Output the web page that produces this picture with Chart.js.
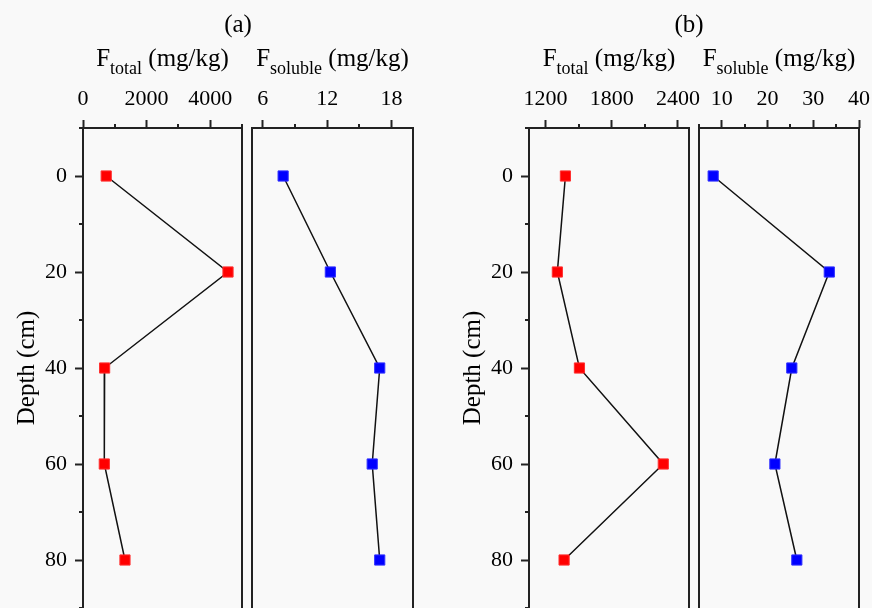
<!DOCTYPE html>
<html>
<head>
<meta charset="utf-8">
<script src="https://cdn.jsdelivr.net/npm/chart.js@4"></script>
<style>
    html, body { margin: 0; padding: 0; overflow: hidden; background: #f9f9f9; }
    #wrap { position: relative; width: 872px; height: 608px; }
    #wrap canvas { position: absolute; left: 0; top: 0; }
</style>
</head>
<body>
<div id="wrap">
    <canvas id="p1" width="872" height="608"></canvas>
    <canvas id="p2" width="872" height="608"></canvas>
    <canvas id="p3" width="872" height="608"></canvas>
    <canvas id="p4" width="872" height="608"></canvas>
</div>
<script>
// Depth of each sample (cm)
const depths = [0, 20, 40, 60, 80];

// Site (a)
const aTotal = [730, 4560, 680, 670, 1320];
const aSoluble = [7.9, 12.3, 16.9, 16.2, 16.9];

// Site (b)
const bTotal = [1380, 1307, 1507, 2267, 1368];
const bSoluble = [8.1, 33.5, 25.3, 21.6, 26.4];

// Axis ranges, labelled ticks and minor ticks
const depthRange = [-10, 90];
const depthTicks = [0, 20, 40, 60, 80];
const depthMinor = [-10, 10, 30, 50, 70, 90];

const aTotalRange = [0, 5000];
const aTotalTicks = [0, 2000, 4000];
const aTotalMinor = [1000, 3000, 5000];

const aSolubleRange = [5, 20];
const aSolubleTicks = [6, 12, 18];
const aSolubleMinor = [9, 15];

const bTotalRange = [1050, 2500];
const bTotalTicks = [1200, 1800, 2400];
const bTotalMinor = [1500, 2100];

const bSolubleRange = [5, 40];
const bSolubleTicks = [10, 20, 30, 40];
const bSolubleMinor = [5, 15, 25, 35];

const FONT = '"Liberation Serif", "Times New Roman", serif';
const INK = '#222';
Chart.defaults.font.family = FONT;
Chart.defaults.color = '#000';

// Frame, subscripted axis titles, minor ticks and panel letters
const panelDeco = {
    id: 'panelDeco',
    afterDraw(chart, args, opts) {
        const ctx = chart.ctx;
        const area = chart.chartArea;
        ctx.save();

        // frame (bottom edge is outside the picture)
        ctx.strokeStyle = INK;
        ctx.lineWidth = 2;
        ctx.beginPath();
        ctx.moveTo(area.left, chart.height + 4);
        ctx.lineTo(area.left, area.top);
        ctx.lineTo(area.right, area.top);
        ctx.lineTo(area.right, chart.height + 4);
        ctx.stroke();

        // minor ticks
        const xs = chart.scales.x;
        xs.ticks.forEach(t => {
            if (t.label !== '') return;
            const px = Math.round(xs.getPixelForValue(t.value));
            ctx.beginPath();
            ctx.moveTo(px, area.top);
            ctx.lineTo(px, area.top - 4);
            ctx.stroke();
        });
        const ys = chart.scales.y;
        if (ys.options.display) {
            ys.ticks.forEach(t => {
                if (t.label !== '') return;
                const py = Math.round(ys.getPixelForValue(t.value));
                ctx.beginPath();
                ctx.moveTo(area.left, py);
                ctx.lineTo(area.left - 4, py);
                ctx.stroke();
            });
        }

        // axis title with subscript
        const mainFont = '25px ' + FONT;
        const subFont = '18px ' + FONT;
        ctx.fillStyle = '#000';
        ctx.textBaseline = 'alphabetic';
        ctx.textAlign = 'left';
        ctx.font = mainFont;
        const wF = ctx.measureText('F').width;
        const wUnit = ctx.measureText(' (mg/kg)').width;
        ctx.font = subFont;
        const wSub = ctx.measureText(opts.sub).width;
        let x = (area.left + area.right) / 2 - (wF + wSub + wUnit) / 2;
        const base = 66;
        ctx.font = mainFont;
        ctx.fillText('F', x, base);
        x += wF;
        ctx.font = subFont;
        ctx.fillText(opts.sub, x, base + 8);
        x += wSub;
        ctx.font = mainFont;
        ctx.fillText(' (mg/kg)', x, base);

        // panel letter
        if (opts.label) {
            ctx.textAlign = 'center';
            ctx.fillText(opts.label, opts.labelX, 32);
        }
        ctx.restore();
    }
};

// labelled + minor tick list for a scale
function tickList(major, minor) {
    return major.concat(minor).sort((a, b) => a - b).map(v => ({ value: v }));
}

function makePanel(id, values, range, major, minor, sub, withDepth, frameL, frameR, label, labelX) {
    const yWidth = withDepth ? 71 : 0;
    new Chart(document.getElementById(id), {
        type: 'scatter',
        data: {
            datasets: [{
                data: values.map((v, i) => ({ x: v, y: depths[i] })),
                showLine: true,
                borderColor: '#111',
                borderWidth: 1.5,
                pointStyle: 'rect',
                pointRadius: 7.2,
                pointHoverRadius: 7.2,
                pointBackgroundColor: sub === 'total' ? '#ff0000' : '#0000ff',
                pointBorderColor: sub === 'total' ? '#ff3030' : '#3030ff',
                pointBorderWidth: 1
            }]
        },
        options: {
            responsive: false,
            animation: false,
            events: [],
            layout: {
                autoPadding: false,
                padding: {
                    left: frameL - yWidth,
                    right: 872 - frameR,
                    top: 0,
                    bottom: 0
                }
            },
            plugins: {
                legend: { display: false },
                tooltip: { enabled: false },
                panelDeco: { sub: sub, label: label, labelX: labelX }
            },
            scales: {
                x: {
                    type: 'linear',
                    position: 'top',
                    min: range[0],
                    max: range[1],
                    border: { display: false },
                    grid: {
                        drawOnChartArea: false,
                        tickLength: 8,
                        tickWidth: 2,
                        tickColor: c => (c.tick && c.tick.label !== '') ? INK : 'rgba(0,0,0,0)'
                    },
                    ticks: {
                        autoSkip: false,
                        maxRotation: 0,
                        padding: 8,
                        font: { size: 22 },
                        callback: v => (major.includes(v) ? String(v) : '')
                    },
                    afterBuildTicks: s => { s.ticks = tickList(major, minor); },
                    afterFit: s => { s.height = 128; s.paddingLeft = 0; s.paddingRight = 0; }
                },
                y: {
                    type: 'linear',
                    reverse: true,
                    display: withDepth,
                    min: depthRange[0],
                    max: depthRange[1],
                    border: { display: false },
                    grid: {
                        drawOnChartArea: false,
                        tickLength: 8,
                        tickWidth: 2,
                        tickColor: c => (c.tick && c.tick.label !== '') ? INK : 'rgba(0,0,0,0)'
                    },
                    ticks: {
                        autoSkip: false,
                        padding: 8,
                        font: { size: 22 },
                        callback: v => (depthTicks.includes(v) ? String(v) : '')
                    },
                    title: {
                        display: true,
                        text: 'Depth (cm)',
                        font: { size: 25 },
                        padding: 0
                    },
                    afterBuildTicks: s => { s.ticks = tickList(depthTicks, depthMinor); },
                    afterFit: s => { s.width = yWidth; s.paddingTop = 0; s.paddingBottom = 0; }
                }
            }
        },
        plugins: [panelDeco]
    });
}

makePanel('p1', aTotal, aTotalRange, aTotalTicks, aTotalMinor, 'total', true, 83, 242, '(a)', 238);
makePanel('p2', aSoluble, aSolubleRange, aSolubleTicks, aSolubleMinor, 'soluble', false, 252, 413, null, 0);
makePanel('p3', bTotal, bTotalRange, bTotalTicks, bTotalMinor, 'total', true, 529, 689, '(b)', 689);
makePanel('p4', bSoluble, bSolubleRange, bSolubleTicks, bSolubleMinor, 'soluble', false, 699, 859, null, 0);
</script>
</body>
</html>
